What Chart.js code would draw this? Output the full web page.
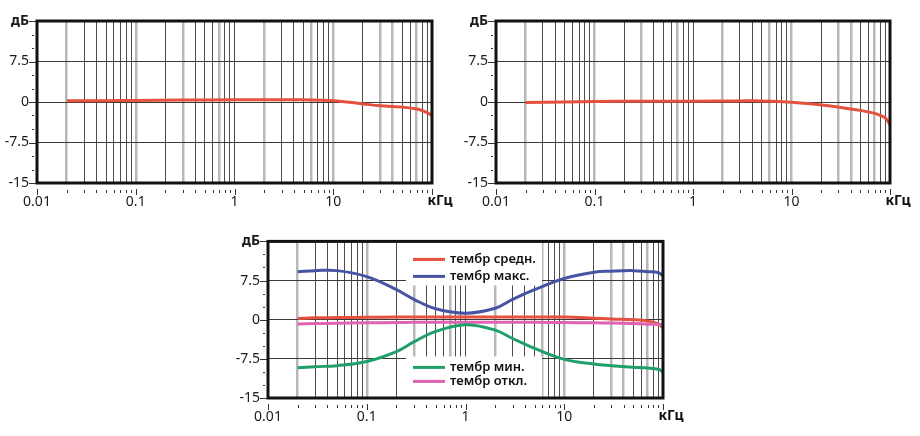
<!DOCTYPE html>
<html>
<head>
<meta charset="utf-8">
<script src="https://cdn.jsdelivr.net/npm/chart.js@4.4.1/dist/chart.umd.min.js"></script>
<style>
    body { margin: 0; background: #fff; width: 920px; height: 436px; position: relative; overflow: hidden; }
    .box { position: absolute; }
</style>
</head>
<body>
<div class="box" style="left:0;top:0;width:460px;height:215px"><canvas id="c1" width="460" height="215"></canvas></div>
<div class="box" style="left:460px;top:0;width:460px;height:215px"><canvas id="c2" width="460" height="215"></canvas></div>
<div class="box" style="left:230px;top:225px;width:460px;height:211px"><canvas id="c3" width="460" height="211"></canvas></div>
<script>
// grid / tick values
const xGridFreqs = [0.01, 0.02, 0.03, 0.04, 0.05, 0.06, 0.07, 0.08, 0.09,
    0.1, 0.2, 0.3, 0.4, 0.5, 0.6, 0.7, 0.8, 0.9,
    1, 2, 3, 4, 5, 6, 7, 8, 9,
    10, 20, 30, 40, 50, 60, 70, 80, 90, 100];
const xLightLines = [0.02, 0.1, 0.3, 0.7, 2, 6, 10, 30, 40, 70];
const xLabelValues = [0.01, 0.1, 1, 10];
const xLabelTexts = ['0.01', '0.1', '1', '10'];
const xUnit = 'кГц';

const yGridValues = [-15, -12.5, -10, -7.5, -5, -2.5, 0, 2.5, 5, 7.5, 10, 12.5, 15];
const yLabelValues = [15, 7.5, 0, -7.5, -15];
const yLabelTexts = ['дБ', '7.5', '0', '-7.5', '-15'];

// top left chart
const freqA = [0.02, 0.05, 0.1, 0.3, 1, 3, 5, 10, 20, 30, 50, 70, 80, 90, 100];
const levelA = [0.25, 0.25, 0.3, 0.35, 0.4, 0.4, 0.4, 0.25, -0.35, -0.7, -0.95, -1.3, -1.6, -2.0, -2.5];

// top right chart
const freqB = [0.02, 0.05, 0.1, 0.3, 1, 3, 5, 10, 20, 30, 50, 70, 80, 90, 100];
const levelB = [-0.1, 0.0, 0.1, 0.15, 0.15, 0.2, 0.2, -0.05, -0.55, -0.95, -1.55, -2.1, -2.5, -3.0, -4.2];

// bottom chart
const freqC = [0.02, 0.03, 0.05, 0.1, 0.2, 0.3, 0.5, 1, 2, 3, 5, 10, 20, 30, 50, 70, 90, 100];
const toneMax = [9.2, 9.4, 9.4, 8.25, 5.75, 3.9, 2.1, 1.25, 2.2, 3.9, 5.75, 7.9, 9.1, 9.3, 9.4, 9.2, 9.0, 8.4];
const toneMin = [-9.2, -9.0, -8.8, -8.0, -6.1, -4.25, -2.25, -0.95, -2.0, -3.6, -5.5, -7.6, -8.5, -8.8, -9.1, -9.25, -9.5, -10];
const toneOff = [-0.8, -0.75, -0.7, -0.6, -0.55, -0.5, -0.5, -0.5, -0.5, -0.5, -0.5, -0.55, -0.6, -0.65, -0.75, -0.85, -0.9, -1.0];
const toneMid = [0.25, 0.35, 0.4, 0.45, 0.5, 0.5, 0.5, 0.5, 0.5, 0.5, 0.5, 0.5, 0.3, 0.15, 0.0, -0.25, -0.8, -1.6];

const legendTop = ['тембр средн.', 'тембр макс.'];
const legendBottom = ['тембр мин.', 'тембр откл.'];

const RED = '#e4513f';
const BLUE = '#4654a3';
const GREEN = '#1f9f69';
const PINK = '#e063b2';

const FONT = "'Noto Sans', sans-serif";

const toPoints = (xs, ys) => xs.map((x, i) => ({ x, y: ys[i] }));

const line = (label, xs, ys, color) => ({
    label,
    data: toPoints(xs, ys),
    borderColor: color,
    borderWidth: 3,
    pointRadius: 0,
    fill: false,
    tension: 0.4
});

// frame, tick marks and the unit label
const decorPlugin = {
    id: 'decor',
    afterDatasetsDraw(chart) {
        const { ctx, chartArea: a } = chart;
        ctx.save();
        ctx.strokeStyle = '#111';
        ctx.lineWidth = 3;
        ctx.strokeRect(a.left, a.top, a.right - a.left, a.bottom - a.top);
        ctx.restore();
    },
    afterDraw(chart) {
        const { ctx, chartArea: a, scales: { x, y } } = chart;
        ctx.save();
        ctx.strokeStyle = '#333';
        ctx.lineWidth = 1;
        ctx.beginPath();
        x.ticks.forEach(t => {
            const px = Math.round(x.getPixelForValue(t.value)) + 0.5;
            const major = xLabelValues.includes(t.value) || t.value === 100;
            ctx.moveTo(px, a.bottom + (major ? 6 : 7));
            ctx.lineTo(px, a.bottom + (major ? 12 : 10));
        });
        y.ticks.forEach(t => {
            const py = Math.round(y.getPixelForValue(t.value)) + 0.5;
            const major = yLabelValues.includes(t.value);
            ctx.moveTo(a.left - (major ? 8 : 5), py);
            ctx.lineTo(a.left - (major ? 1 : 3), py);
        });
        ctx.stroke();
        ctx.fillStyle = '#111';
        ctx.font = 'bold 14px ' + FONT;
        ctx.textAlign = 'center';
        ctx.textBaseline = 'middle';
        ctx.fillText(xUnit, x.getPixelForValue(100) + 8, a.bottom + 18);
        ctx.restore();
    }
};

// legend boxes inside the bottom chart
const legendPlugin = {
    id: 'innerLegend',
    beforeDatasetsDraw(chart) {
        const { ctx, chartArea: a } = chart;
        ctx.save();
        ctx.fillStyle = '#fff';
        ctx.fillRect(a.left + 138, a.top, 136, 44);
        ctx.fillRect(a.left + 138, a.top + 115, 136, a.bottom - a.top - 115);
        ctx.restore();
    },
    afterDatasetsDraw(chart) {
        const { ctx, chartArea: a } = chart;
        const byLabel = {};
        chart.data.datasets.forEach(d => { byLabel[d.label] = d.borderColor; });
        const rows = [
            [legendTop[0], 18], [legendTop[1], 35],
            [legendBottom[0], 126], [legendBottom[1], 140]
        ];
        ctx.save();
        ctx.font = '600 13px ' + FONT;
        ctx.textBaseline = 'middle';
        ctx.textAlign = 'left';
        rows.forEach(([label, dy]) => {
            const yy = a.top + dy;
            ctx.strokeStyle = byLabel[label];
            ctx.lineWidth = 3;
            ctx.beginPath();
            ctx.moveTo(a.left + 145, yy);
            ctx.lineTo(a.left + 177, yy);
            ctx.stroke();
            ctx.fillStyle = '#111';
            ctx.fillText(label, a.left + 182, yy);
        });
        ctx.restore();
    }
};

function makeOptions(yWidth, xHeight, padTop, padRight) {
    return {
        responsive: false,
        animation: false,
        layout: { padding: { top: padTop, right: padRight, left: 0, bottom: 0 } },
        plugins: { legend: { display: false }, tooltip: { enabled: false } },
        scales: {
            x: {
                type: 'logarithmic',
                min: 0.01,
                max: 100,
                afterBuildTicks: (scale) => { scale.ticks = xGridFreqs.map(v => ({ value: v })); },
                afterFit: (scale) => { scale.height = xHeight; },
                border: { display: false },
                grid: {
                    drawTicks: false,
                    color: (c) => xLightLines.includes(c.tick.value) ? '#b8b8b8' : '#4d4d4d',
                    lineWidth: (c) => xLightLines.includes(c.tick.value) ? 2.5 : 1
                },
                ticks: {
                    autoSkip: false,
                    maxRotation: 0,
                    padding: 11,
                    color: '#1a1a1a',
                    font: { family: FONT, size: 14 },
                    callback: (v) => {
                        const i = xLabelValues.indexOf(v);
                        return i >= 0 ? xLabelTexts[i] : '';
                    }
                }
            },
            y: {
                min: -15,
                max: 15,
                afterBuildTicks: (scale) => { scale.ticks = yGridValues.map(v => ({ value: v })); },
                afterFit: (scale) => { scale.width = yWidth; },
                border: { display: false },
                grid: {
                    drawTicks: false,
                    color: (c) => (c.tick && [7.5, 0, -7.5].includes(c.tick.value)) ? '#3a3a3a' : 'rgba(0,0,0,0)',
                    lineWidth: 1
                },
                ticks: {
                    autoSkip: false,
                    padding: 8,
                    color: '#1a1a1a',
                    font: (c) => ({ family: FONT, size: 14, weight: c.tick && c.tick.value === 15 ? 'bold' : 'normal' }),
                    callback: (v) => {
                        const i = yLabelValues.indexOf(v);
                        return i >= 0 ? yLabelTexts[i] : '';
                    }
                }
            }
        }
    };
}

new Chart(document.getElementById('c1'), {
    type: 'line',
    data: { datasets: [line('A', freqA, levelA, RED)] },
    options: makeOptions(37, 32, 21, 28),
    plugins: [decorPlugin]
});

new Chart(document.getElementById('c2'), {
    type: 'line',
    data: { datasets: [line('B', freqB, levelB, RED)] },
    options: makeOptions(36, 32, 21, 30),
    plugins: [decorPlugin]
});

new Chart(document.getElementById('c3'), {
    type: 'line',
    data: {
        datasets: [
            line(legendTop[1], freqC, toneMax, BLUE),
            line(legendBottom[0], freqC, toneMin, GREEN),
            line(legendBottom[1], freqC, toneOff, PINK),
            line(legendTop[0], freqC, toneMid, RED)
        ]
    },
    options: makeOptions(38, 38, 13, 27),
    plugins: [legendPlugin, decorPlugin]
});
</script>
</body>
</html>
